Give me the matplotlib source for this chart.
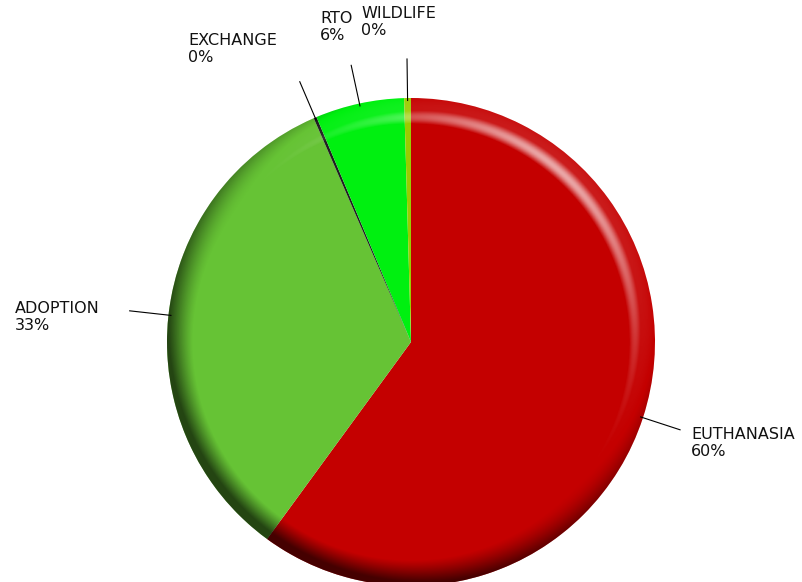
import numpy as np
import matplotlib.pyplot as plt
from matplotlib.patches import Circle

# outcome counts (percentages shown rounded)
names = ["EUTHANASIA", "ADOPTION", "EXCHANGE", "RTO", "WILDLIFE"]
counts = [1205, 671, 4, 118, 9]
colors = ["#c40000", "#66c335", "#202020", "#00f010", "#99cc00"]

# label text positions (pixels from top-left)
label_pos = {
    "EUTHANASIA": (691, 427),
    "ADOPTION": (15, 301),
    "EXCHANGE": (188, 33),
    "RTO": (320, 11),
    "WILDLIFE": (361, 6),
}

W, H = 802, 582
cx, cy, R = 411, H - 342, 244

fig = plt.figure(figsize=(W / 100, H / 100), dpi=100)
ax = fig.add_axes([0, 0, 1, 1])

wedges, _ = ax.pie(counts, colors=colors, startangle=90, counterclock=False,
                   center=(cx, cy), radius=R, wedgeprops=dict(linewidth=0))
ax.set_xlim(0, W)
ax.set_ylim(0, H)
ax.set_aspect('equal')
ax.axis('off')

# bevel shading on the rim, light from upper right
n = 800
xs = np.linspace(-1, 1, n)
X, Y = np.meshgrid(xs, xs)
rho = np.sqrt(X**2 + Y**2) + 1e-9
w = 0.105
t = np.clip((rho - (1 - w)) / w, 0, 1)
phi = t * np.pi / 2 * 0.88
nx = X / rho * np.sin(phi)
ny = Y / rho * np.sin(phi)
nz = np.cos(phi)
L = np.array([0.5, 0.6, 0.62])
L = L / np.linalg.norm(L)
diff = nx * L[0] + ny * L[1] + nz * L[2] - L[2]
Hv = L + np.array([0, 0, 1.0])
Hv = Hv / np.linalg.norm(Hv)
spec = np.clip(nx * Hv[0] + ny * Hv[1] + nz * Hv[2], 0, 1) ** 12
spec = np.clip(spec - Hv[2] ** 12, 0, 1)
shade = np.zeros((n, n, 4))
light = np.clip(diff * 0.3 + spec * 0.8, 0, 0.8)
dark = np.clip(-diff * 0.7, 0, 0.65)
shade[..., :3] = np.where(light[..., None] > 0, 1.0, 0.0)
shade[..., 3] = np.where(light > 0, light, dark)
img = ax.imshow(shade, extent=(cx - R, cx + R, cy - R, cy + R), origin='lower',
                interpolation='bilinear', zorder=3)
img.set_clip_path(Circle((cx, cy), R, transform=ax.transData))

# leader lines and labels
total = sum(counts)
for wdg, name, c in zip(wedges, names, counts):
    ang = np.deg2rad((wdg.theta1 + wdg.theta2) / 2)
    x0, y0 = cx + 0.99 * R * np.cos(ang), cy + 0.99 * R * np.sin(ang)
    x1, y1 = cx + 1.16 * R * np.cos(ang), cy + 1.16 * R * np.sin(ang)
    ax.plot([x0, x1], [y0, y1], color='black', lw=0.8, zorder=4)
    tx, ty = label_pos[name]
    ax.text(tx, H - ty, f"{name}\n{100 * c / total:.0f}%", ha='left', va='top',
            fontsize=11.5, family='DejaVu Sans', color='#111111', linespacing=1.15)

plt.savefig('out.png', dpi=100)
